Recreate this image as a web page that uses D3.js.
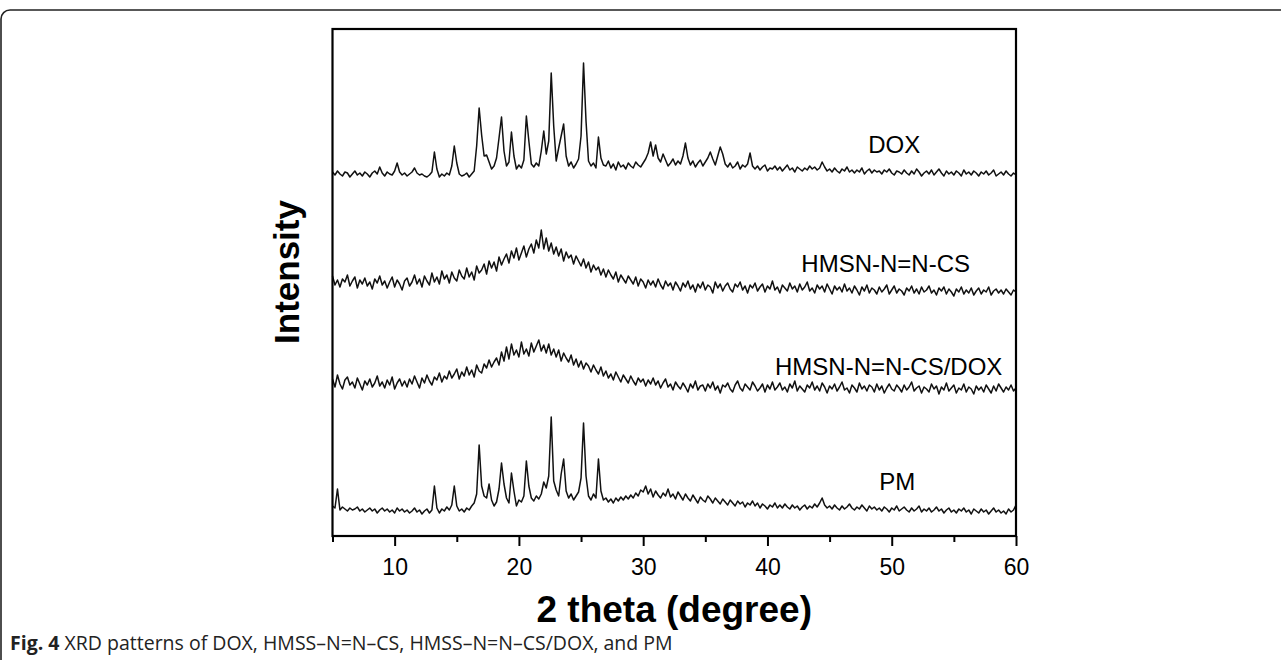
<!DOCTYPE html>
<html>
<head>
<meta charset="utf-8">
<script src="https://cdn.jsdelivr.net/npm/d3@7"></script>
<style>
  body { margin: 0; background: #fff; }
  svg { display: block; }
  .tick text { font-family: "Liberation Sans", Arial, sans-serif; }
</style>
</head>
<body>
<div id="chart"></div>
<script>
// scan settings (2 theta, degree)
const thetaStart = 5, thetaStep = 0.2;

// series names, drawn top to bottom
const seriesNames = ['DOX', 'HMSN-N=N-CS', 'HMSN-N=N-CS/DOX', 'PM'];
// vertical offsets used to stack the patterns (a.u.)
const seriesOffsets = [340, 230, 130, 0];

const xTicks = [10, 20, 30, 40, 50, 60];
const xMinorTicks = [5, 15, 25, 35, 45, 55];

// intensities, one per 0.2 degree from 5 to 60 (a.u.)
const dox = [
  24, 21, 25, 22, 20, 24, 23, 19, 22, 25,
  21, 23, 20, 24, 22, 19, 23, 25, 22, 29,
  23, 20, 24, 22, 21, 25, 33, 24, 21, 23,
  20, 22, 24, 28, 23, 21, 22, 20, 19, 21,
  24, 44, 27, 19, 22, 20, 23, 21, 30, 50,
  33, 22, 20, 21, 23, 19, 22, 25, 50, 88,
  61, 40, 41, 34, 27, 30, 38, 58, 79, 45,
  30, 34, 64, 40, 27, 31, 28, 36, 80, 55,
  32, 29, 33, 30, 45, 65, 42, 55, 123, 70,
  35, 48, 60, 72, 40, 30, 34, 28, 32, 37,
  60, 133, 75, 35, 30, 33, 28, 59, 38, 31,
  30, 35, 28, 32, 26, 34, 29, 31, 27, 33,
  30, 28, 34, 31, 29, 33, 37, 43, 54, 40,
  51, 38, 34, 42, 36, 30, 33, 37, 31, 35,
  32, 40, 53, 38, 31, 35, 29, 33, 36, 30,
  34, 38, 44, 37, 31, 40, 49, 42, 32, 29,
  33, 28, 30, 34, 27, 31, 29, 32, 43, 30,
  27, 30, 26, 29, 31, 25, 28, 27, 30, 26,
  29, 25, 28, 31, 26, 28, 24, 29, 27, 25,
  28, 26, 30, 27, 29, 26, 28, 34, 29, 25,
  27, 24, 28, 25, 23, 27, 25, 29, 24, 26,
  23, 26, 24, 28, 22, 25, 27, 23, 26, 24,
  25, 22, 26, 24, 27, 23, 21, 25, 24, 22,
  26, 23, 21, 25, 22, 27, 24, 20, 23, 25,
  22, 26, 21, 24, 27, 23, 20, 25, 22, 24,
  21, 25, 23, 20, 26, 22, 24, 21, 25, 23,
  20, 24, 22, 25, 21, 23, 26, 20, 22, 24,
  21, 25, 22, 20, 23, 21
];

const hmsn = [
  30, 21, 26, 19, 27, 24, 31, 20, 25, 29,
  18, 26, 22, 28, 20, 24, 17, 27, 23, 30,
  21, 25, 18, 24, 29, 19, 26, 22, 16, 25,
  28, 20, 24, 31, 22, 27, 19, 30, 25, 21,
  33, 24, 29, 22, 35, 27, 31, 23, 34, 28,
  25, 36, 30, 27, 38, 29, 34, 26, 40, 33,
  36, 42, 32, 45, 38, 44, 35, 49, 41, 47,
  52, 43, 55, 48, 58, 46, 53, 60, 49, 57,
  62, 53, 66, 58, 76, 57, 68, 55, 63, 52,
  59, 50, 57, 45, 54, 48, 51, 42, 50, 45,
  40, 47, 38, 44, 34, 41, 36, 39, 31, 37,
  29, 36, 31, 27, 34, 24, 31, 27, 23, 30,
  26, 22, 29, 20, 27, 24, 18, 26, 21, 25,
  19, 27, 21, 17, 25, 20, 23, 16, 24, 20,
  15, 23, 19, 25, 17, 21, 14, 22, 18, 24,
  16, 21, 19, 13, 24, 18, 22, 15, 20, 23,
  17, 14, 22, 19, 24, 16, 20, 13, 21, 18,
  23, 15, 19, 22, 14, 20, 17, 25, 16, 19,
  13, 21, 18, 15, 23, 17, 20, 14, 22, 16,
  19, 24, 15, 18, 13, 21, 17, 20, 14, 22,
  17, 12, 20, 16, 19, 14, 22, 15, 18, 13,
  20, 16, 11, 19, 15, 21, 13, 18, 16, 12,
  19, 14, 17, 21, 12, 16, 20, 13, 17, 15,
  11, 18, 15, 20, 13, 17, 12, 19, 14, 16,
  20, 13, 16, 11, 18, 15, 19, 12, 17, 14,
  10, 17, 14, 19, 12, 16, 13, 18, 11, 15,
  18, 12, 16, 14, 19, 11, 15, 17, 13, 16,
  12, 17, 14, 11, 16, 14
];

const hmsnDox = [
  27, 19, 31, 22, 17, 26, 29, 21, 24, 18,
  28, 22, 16, 25, 21, 27, 19, 23, 30, 20,
  24, 18, 26, 21, 29, 17, 23, 27, 20, 25,
  19, 27, 22, 30, 24, 18, 28, 23, 31, 25,
  21, 29, 26, 33, 24, 30, 27, 35, 28, 32,
  37, 27, 34, 30, 39, 31, 36, 29, 41, 35,
  33, 42, 38, 46, 39, 44, 48, 41, 54, 45,
  59, 47, 62, 51, 56, 49, 64, 52, 57, 50,
  63, 54, 60, 66, 55, 61, 53, 62, 51, 57,
  49, 56, 45, 53, 48, 44, 51, 41, 47, 39,
  45, 37, 43, 40, 34, 41, 36, 32, 39, 30,
  35, 28, 32, 26, 34, 29, 24, 31, 27, 23,
  30, 25, 21, 28, 24, 27, 20, 26, 22, 28,
  21, 25, 18, 23, 27, 19, 22, 16, 24, 20,
  17, 23, 19, 14, 22, 18, 25, 16, 20, 21,
  15, 22, 18, 24, 16, 20, 13, 21, 19, 23,
  17, 14, 21, 25, 18, 15, 22, 19, 16, 24,
  20, 15, 18, 22, 14, 21, 17, 24, 16, 19,
  23, 16, 19, 14, 22, 18, 25, 15, 20, 17,
  14, 21, 18, 24, 16, 20, 15, 23, 19, 13,
  20, 17, 22, 15, 19, 24, 16, 18, 13, 21,
  18, 14, 23, 17, 20, 15, 21, 19, 14, 22,
  16, 20, 13, 18, 22, 17, 15, 21, 18, 14,
  21, 16, 19, 24, 15, 18, 20, 13, 19, 17,
  14, 22, 17, 20, 12, 19, 16, 23, 15, 18,
  21, 13, 18, 16, 22, 14, 19, 17, 12, 20,
  16, 19, 14, 21, 17, 13, 20, 15, 22, 18,
  14, 19, 16, 21, 15, 18
];

const pm = [
  30, 28, 47, 26, 29, 27, 25, 28, 26, 27,
  29, 25, 27, 24, 26, 28, 25, 27, 23, 26,
  28, 25, 27, 24, 26, 23, 28, 25, 27, 24,
  26, 23, 25, 28, 24, 26, 22, 25, 27, 23,
  26, 50, 28, 23, 27, 25, 29, 26, 31, 50,
  30, 25, 27, 24, 28, 26, 30, 33, 42, 91,
  50, 40, 38, 52, 36, 30, 34, 47, 73, 52,
  38, 33, 63, 45, 30, 36, 34, 40, 75, 50,
  38, 35, 40, 37, 42, 54, 48, 60, 119, 55,
  46, 40, 62, 77, 45, 38, 42, 36, 40, 44,
  58, 113, 60, 40, 36, 42, 38, 77, 45, 36,
  38, 34, 37, 33, 38, 35, 39, 36, 40, 37,
  41, 38, 43, 40, 46, 44, 50, 42, 47, 39,
  45, 41, 38, 43, 40, 47, 39, 42, 37, 44,
  40, 36, 42, 38, 35, 41, 37, 33, 39, 36,
  34, 40, 37, 33, 38, 35, 32, 37, 34, 31,
  36, 33, 30, 35, 32, 34, 29, 33, 31, 35,
  30, 33, 28, 32, 30, 27, 31, 29, 33, 28,
  31, 28, 32, 29, 27, 31, 28, 30, 26, 29,
  31, 27, 30, 28, 32, 29, 33, 38, 31, 28,
  30, 27, 31, 28, 26, 30, 27, 29, 32, 28,
  26, 29, 27, 31, 28, 25, 30, 27, 29, 26,
  28, 25, 29, 27, 24, 28, 26, 30, 25, 27,
  29, 26, 24, 28, 25, 27, 30, 24, 27, 25,
  28, 24, 26, 29, 25, 27, 23, 26, 28, 24,
  26, 23, 27, 25, 28, 24, 26, 22, 27, 25,
  23, 27, 24, 26, 22, 25, 28, 24, 26, 23,
  25, 22, 27, 24, 26, 31
];

const seriesValues = [dox, hmsn, hmsnDox, pm];

// where each label ends (degree) and its baseline (a.u.)
const labelEnds = [[52.3, 383], [56.3, 264], [58.9, 161], [51.9, 46]];

const width = 1281, height = 660;
const margin = {top: 29, right: 265, bottom: 124, left: 332.5};
const plotW = width - margin.left - margin.right;
const plotH = height - margin.top - margin.bottom;
const font = '"Liberation Sans", Arial, Helvetica, sans-serif';

const svg = d3.select('#chart').append('svg')
  .attr('width', width)
  .attr('height', height);

// outer figure frame
svg.append('rect')
  .attr('x', 1).attr('y', 10)
  .attr('width', 1400).attr('height', 700)
  .attr('rx', 9)
  .attr('fill', 'none')
  .attr('stroke', '#222')
  .attr('stroke-width', 1.6);

const g = svg.append('g')
  .attr('transform', 'translate(' + margin.left + ',' + margin.top + ')');

const x = d3.scaleLinear().domain([5, 60]).range([0, plotW]);
const y = d3.scaleLinear().domain([0, 507]).range([plotH, 0]);

// minor ticks
g.append('g')
  .attr('transform', 'translate(0,' + plotH + ')')
  .call(d3.axisBottom(x).tickValues(xMinorTicks).tickSize(6).tickFormat(''))
  .call(a => a.select('.domain').remove())
  .call(a => a.selectAll('line').attr('stroke', '#000').attr('stroke-width', 2));

// major ticks + labels
g.append('g')
  .attr('transform', 'translate(0,' + plotH + ')')
  .call(d3.axisBottom(x).tickValues(xTicks).tickSize(10).tickPadding(13).tickFormat(d3.format('d')))
  .call(a => a.select('.domain').remove())
  .call(a => a.selectAll('line').attr('stroke', '#000').attr('stroke-width', 2))
  .call(a => a.selectAll('text').attr('font-size', 23).attr('fill', '#000'));

// patterns
const line = d3.line()
  .x(d => x(d[0]))
  .y(d => y(d[1]));

seriesValues.forEach((vals, i) => {
  const pts = vals.map((v, k) => [thetaStart + k * thetaStep, v + seriesOffsets[i]]);
  g.append('path')
    .datum(pts)
    .attr('fill', 'none')
    .attr('stroke', '#111')
    .attr('stroke-width', 1.5)
    .attr('stroke-linejoin', 'round')
    .attr('d', line);
});

// plot box
g.append('rect')
  .attr('width', plotW).attr('height', plotH)
  .attr('fill', 'none')
  .attr('stroke', '#000')
  .attr('stroke-width', 2.2);

// series labels
seriesNames.forEach((name, i) => {
  g.append('text')
    .attr('x', x(labelEnds[i][0]))
    .attr('y', y(labelEnds[i][1]))
    .attr('text-anchor', 'end')
    .attr('font-family', font)
    .attr('font-size', 24)
    .attr('fill', '#000')
    .text(name);
});

// axis titles
svg.append('text')
  .attr('x', margin.left + plotW / 2)
  .attr('y', 622)
  .attr('text-anchor', 'middle')
  .attr('font-family', font)
  .attr('font-weight', 'bold')
  .attr('font-size', 37)
  .text('2 theta (degree)');

svg.append('text')
  .attr('transform', 'translate(299,272) rotate(-90)')
  .attr('text-anchor', 'middle')
  .attr('font-family', font)
  .attr('font-weight', 'bold')
  .attr('font-size', 35)
  .text('Intensity');

// caption
const cap = svg.append('text')
  .attr('x', 10).attr('y', 650)
  .attr('font-family', '"Open Sans", "Noto Sans", sans-serif')
  .attr('font-size', 19.5)
  .attr('fill', '#222');
cap.append('tspan').attr('font-weight', 'bold').text('Fig. 4');
cap.append('tspan').text(' XRD patterns of DOX, HMSS\u2013N=N\u2013CS, HMSS\u2013N=N\u2013CS/DOX, and PM');
</script>
</body>
</html>
